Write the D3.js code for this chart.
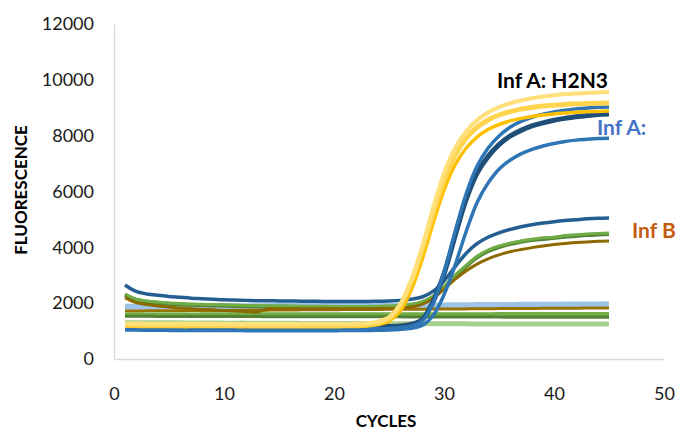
<!DOCTYPE html>
<html>
<head>
<meta charset="utf-8">
<script src="https://cdn.jsdelivr.net/npm/d3@7"></script>
<style>
  html, body { margin: 0; padding: 0; background: #fff; }
  svg { display: block; font-family: Lato, "Open Sans", sans-serif; }
</style>
</head>
<body>
<svg id="chart" width="680" height="432"></svg>
<script>
// ---------- DATA ----------
const cycles = [1,2,3,4,5,6,7,8,9,10,11,12,13,14,15,16,17,18,19,20,21,22,23,24,25,26,27,28,29,30,31,32,33,34,35,36,37,38,39,40,41,42,43,44,45];
const xTicks = [0, 10, 20, 30, 40, 50];
const yTicks = [0, 2000, 4000, 6000, 8000, 10000, 12000];

// flat (negative) traces
const flatLightBlue = [1870,1870,1875,1875,1880,1880,1880,1885,1885,1885,1890,1890,1890,1895,1895,
  1895,1900,1900,1900,1905,1905,1905,1910,1910,1910,1915,1915,1920,1920,1920,
  1925,1925,1930,1930,1935,1935,1940,1940,1945,1945,1950,1950,1955,1955,1960];
const flatBrown = [1720,1720,1725,1725,1730,1730,1735,1735,1740,1740,1745,1745,1750,1750,1755,
  1755,1760,1760,1765,1765,1770,1770,1775,1775,1780,1780,1785,1785,1790,1790,
  1795,1795,1800,1800,1805,1805,1810,1810,1815,1815,1820,1820,1825,1825,1830];
const flatGreen = [1590,1590,1590,1595,1595,1595,1595,1600,1600,1600,1600,1600,1600,1600,1600,
  1600,1600,1600,1600,1600,1605,1605,1605,1605,1605,1605,1605,1605,1605,1605,
  1605,1605,1605,1605,1610,1610,1610,1610,1610,1610,1610,1610,1610,1610,1610];
const flatDarkGreen = [1530,1530,1530,1525,1525,1525,1525,1520,1520,1520,1520,1520,1520,1515,1515,
  1515,1515,1515,1515,1510,1510,1510,1510,1510,1510,1510,1505,1505,1505,1505,
  1505,1505,1505,1505,1500,1500,1500,1500,1500,1500,1500,1500,1500,1500,1500];
const flatLightGreen = [1300,1300,1300,1295,1295,1295,1290,1290,1290,1285,1285,1285,1280,1280,1280,
  1280,1275,1275,1275,1270,1270,1270,1270,1265,1265,1265,1265,1260,1260,1260,
  1260,1260,1255,1255,1255,1255,1255,1250,1250,1250,1250,1250,1250,1250,1250];

// Inf B traces
const infBDarkGreen = [2300,2120,2050,2010,1980,1960,1940,1930,1920,1910,1900,1890,1880,1880,1870,
  1870,1860,1860,1860,1850,1850,1850,1850,1860,1870,1890,1930,2020,2220,2560,
  2960,3310,3640,3860,4010,4120,4200,4260,4300,4340,4380,4410,4440,4460,4480];
const infBGreen = [2330,2150,2080,2040,2010,1990,1970,1960,1950,1940,1930,1920,1910,1910,1900,
  1900,1890,1890,1890,1880,1880,1880,1880,1890,1900,1920,1960,2050,2250,2600,
  3000,3350,3680,3900,4050,4150,4230,4290,4340,4360,4420,4450,4480,4500,4510];
const infBBrown = [2200,2020,1950,1900,1860,1830,1800,1780,1760,1740,1720,1700,1680,1800,1800,
  1800,1800,1800,1800,1800,1800,1800,1800,1805,1810,1820,1860,1960,2170,2500,
  2850,3150,3400,3590,3730,3840,3920,3990,4050,4100,4140,4170,4195,4215,4230];

// Inf A traces
const infALow = [2650,2420,2330,2280,2240,2210,2180,2160,2140,2120,2110,2100,2090,2090,2080,
  2080,2070,2070,2060,2060,2060,2060,2060,2070,2080,2100,2140,2220,2420,2800,
  3300,3780,4130,4360,4520,4640,4740,4810,4870,4920,4960,4990,5020,5040,5050];
const infA3 = [1040,1035,1030,1030,1025,1025,1025,1020,1020,1020,1020,1015,1015,1015,1015,
  1015,1015,1015,1015,1015,1020,1020,1025,1030,1040,1060,1100,1200,1550,2300,
  3350,4550,5600,6300,6800,7120,7350,7510,7630,7720,7790,7840,7870,7895,7910];
const infA2 = [1160,1155,1150,1150,1150,1145,1145,1145,1140,1140,1140,1140,1140,1135,1135,
  1135,1135,1135,1135,1135,1140,1140,1145,1150,1160,1180,1240,1400,2050,3050,
  4400,5700,6650,7250,7680,7980,8190,8350,8460,8550,8620,8680,8720,8760,8780];
const infA1 = [1100,1095,1090,1090,1085,1085,1080,1080,1080,1075,1075,1075,1070,1070,1070,
  1070,1070,1070,1070,1075,1075,1080,1085,1090,1100,1120,1180,1350,2000,3100,
  4550,5900,6900,7550,7990,8300,8510,8660,8770,8850,8910,8960,8990,9015,9030];

// Inf A: H2N3 traces
const h2n3Gold = [1170,1170,1165,1165,1165,1160,1160,1160,1160,1160,1160,1155,1155,1155,1155,
  1155,1155,1155,1155,1155,1160,1165,1180,1230,1350,1700,2450,3550,4850,6050,
  6950,7550,7950,8220,8400,8530,8620,8690,8740,8780,8810,8840,8860,8870,8880];
const h2n3Mid = [1215,1215,1210,1210,1210,1205,1205,1205,1200,1200,1200,1200,1200,1200,1200,
  1200,1200,1200,1200,1200,1205,1210,1230,1290,1450,1900,2750,3900,5200,6400,
  7300,7900,8300,8560,8740,8860,8950,9010,9060,9090,9120,9140,9150,9160,9170];
const h2n3Light = [1270,1270,1265,1265,1265,1260,1260,1260,1260,1255,1255,1255,1255,1255,1250,
  1250,1250,1250,1250,1250,1255,1260,1280,1340,1500,1950,2800,4000,5400,6650,
  7550,8150,8550,8830,9020,9160,9260,9340,9400,9450,9490,9510,9530,9550,9560];

const labels = ["Inf A: H2N3", "Inf A:", "Inf B"];

// ---------- STYLES (drawing order) ----------
const series = [
  { values: flatLightBlue,  color: "#9DC3E6", width: 6 },
  { values: flatBrown,      color: "#997300", width: 3 },
  { values: flatGreen,      color: "#70AD47", width: 4 },
  { values: flatDarkGreen,  color: "#548235", width: 3 },
  { values: flatLightGreen, color: "#A9D18E", width: 5 },
  { values: infBDarkGreen,  color: "#548235", width: 4 },
  { values: infBGreen,      color: "#70AD47", width: 3 },
  { values: infBBrown,      color: "#8C6A00", width: 3 },
  { values: infALow,        color: "#255E91", width: 3.5 },
  { values: infA3,          color: "#2E75B6", width: 3.5 },
  { values: infA2,          color: "#1F4E79", width: 5 },
  { values: infA1,          color: "#2E75B6", width: 3.5 },
  { values: h2n3Gold,       color: "#FFC000", width: 3.5 },
  { values: h2n3Mid,        color: "#FFD54F", width: 5 },
  { values: h2n3Light,      color: "#FFE07A", width: 4 }
];

// ---------- CHART ----------
const svg = d3.select("#chart");
const x = d3.scaleLinear().domain([0, 50]).range([114, 664]);
const y = d3.scaleLinear().domain([0, 12000]).range([359, 24]);

// axes
const yAxis = svg.append("g")
  .attr("transform", `translate(${x(0)},0)`)
  .call(d3.axisLeft(y).tickValues(yTicks).tickFormat(d3.format("d")).tickSize(0).tickSizeOuter(0).tickPadding(20));
const xAxis = svg.append("g")
  .attr("transform", `translate(0,${y(0)})`)
  .call(d3.axisBottom(x).tickValues(xTicks).tickFormat(d3.format("d")).tickSize(0).tickSizeOuter(0).tickPadding(28));
[yAxis, xAxis].forEach(g => {
  g.select(".domain").attr("stroke", "#D9D9D9").attr("stroke-width", 1.3);
  g.selectAll(".tick text").attr("font-family", "Lato, sans-serif").attr("font-size", 18).attr("fill", "#1a1a1a");
});

// lines
const line = d3.line()
  .x((d, i) => x(cycles[i]))
  .y(d => y(d))
  .curve(d3.curveCatmullRom.alpha(0.5));

svg.append("g").selectAll("path")
  .data(series)
  .join("path")
  .attr("d", s => line(s.values))
  .attr("fill", "none")
  .attr("stroke", s => s.color)
  .attr("stroke-width", s => s.width)
  .attr("stroke-linecap", "butt")
  .attr("stroke-linejoin", "round");

// axis titles
svg.append("text")
  .attr("transform", "translate(27,190) rotate(-90)")
  .attr("text-anchor", "middle")
  .attr("font-weight", 700).attr("font-size", 17).attr("fill", "#000")
  .text("FLUORESCENCE");
svg.append("text")
  .attr("x", 386).attr("y", 427)
  .attr("text-anchor", "middle")
  .attr("font-weight", 700).attr("font-size", 17).attr("fill", "#000")
  .text("CYCLES");

// series annotations
svg.append("text")
  .attr("x", 608).attr("y", 88).attr("text-anchor", "end")
  .attr("font-weight", 700).attr("font-size", 21).attr("fill", "#000")
  .text(labels[0]);
svg.append("text")
  .attr("x", 597).attr("y", 135)
  .attr("font-weight", 700).attr("font-size", 21).attr("fill", "#4472C4")
  .text(labels[1]);
svg.append("text")
  .attr("x", 632).attr("y", 238)
  .attr("font-weight", 700).attr("font-size", 21).attr("fill", "#C55A11")
  .text(labels[2]);
</script>
</body>
</html>
